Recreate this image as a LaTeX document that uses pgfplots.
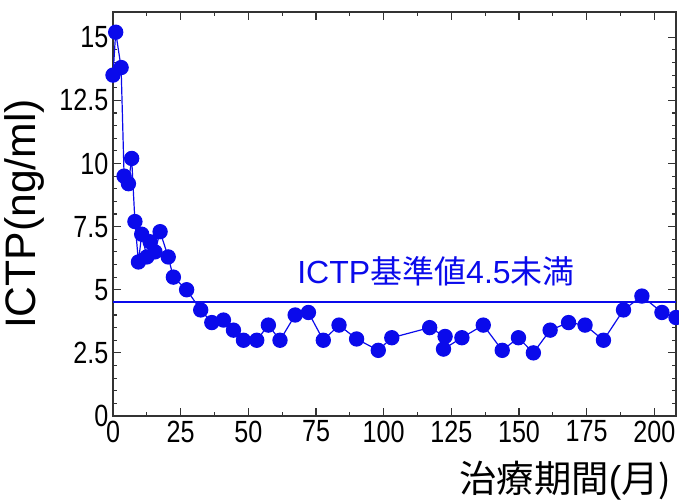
\documentclass[border=0pt]{standalone}
\usepackage{pgfplots}
\pgfplotsset{compat=1.18}
\usepackage{fontspec}
\setmainfont{Liberation Sans}
\newfontfamily\narrowfont[FakeStretch=0.82]{Liberation Sans}
\newfontfamily\cjk{Noto Sans CJK JP}
\definecolor{dotblue}{RGB}{10,10,235}
\begin{document}
\begin{tikzpicture}
\begin{axis}[
  scale only axis,
  width=422.25pt, height=303pt,
  xmin=0, xmax=208, ymin=0, ymax=16,
  xtick={0,25,...,200},
  ytick={0,2.5,...,15},
  minor x tick num=1,
  minor y tick num=4,
  tick align=inside,
  major tick length=6pt,
  minor tick length=3pt,
  axis line style={black!80, line width=1.2pt},
  every tick/.style={black!80, line width=0.9pt},
  /pgf/number format/assume math mode=true,
  tick label style={font=\narrowfont\fontsize{23}{26}\selectfont},
  ylabel={ICTP(ng/ml)},
  ylabel style={font=\fontsize{32}{36}\selectfont, at={(axis description cs:-0.157,0.5)}, anchor=center},
  xlabel={{\cjk 治療期間}(\cjk 月)},
  xlabel style={font=\fontsize{28}{32}\selectfont, at={(axis description cs:1,-0.16)}, anchor=east},
  clip=false,
]
\addplot[dotblue, line width=1.5pt] coordinates {(0,4.5) (208,4.5)};
\addplot[dotblue, line width=0.9pt, mark=*, mark size=5.3pt, mark options={fill=dotblue, draw=dotblue}] coordinates {
(0,13.5) (1,15.2) (3,13.8) (4.1,9.5) (5.7,9.2) (6.9,10.2) (8.1,7.7) (9.4,6.1) (10.6,7.2) (12.5,6.3) (13.7,6.9) (15.5,6.5) (17.4,7.3) (20.4,6.3) (22.3,5.5) (27.2,5.0) (32.4,4.2) (36.5,3.7) (40.8,3.8) (44.5,3.4) (48.2,3.0) (53.1,3.0) (57.4,3.6) (61.7,3.0) (67.3,4.0) (72.2,4.1) (77.7,3.0) (83.5,3.6) (90,3.05) (98,2.6) (103,3.1) (117,3.5) (122.7,3.15) (122.1,2.65) (128.9,3.1) (136.8,3.6) (143.8,2.6) (149.8,3.1) (155.3,2.5) (161.5,3.4) (168.3,3.7) (174.4,3.6) (181.2,3.0) (188.6,4.2) (195.4,4.75) (202.8,4.1) (208,3.9)
};
\node[anchor=west, text=dotblue, font=\fontsize{24}{28}\selectfont, inner sep=0pt] at (axis cs:68,5.75) {ICTP{\cjk 基準値}4.5{\cjk 未満}};
\coordinate (bl) at (rel axis cs:0,0);
\coordinate (tr) at (rel axis cs:1,1);
\end{axis}
\pgfresetboundingbox
\useasboundingbox ([xshift=-84.75pt,yshift=-65.25pt]bl) rectangle ([xshift=2.25pt,yshift=9pt]tr);
\end{tikzpicture}
\end{document}
